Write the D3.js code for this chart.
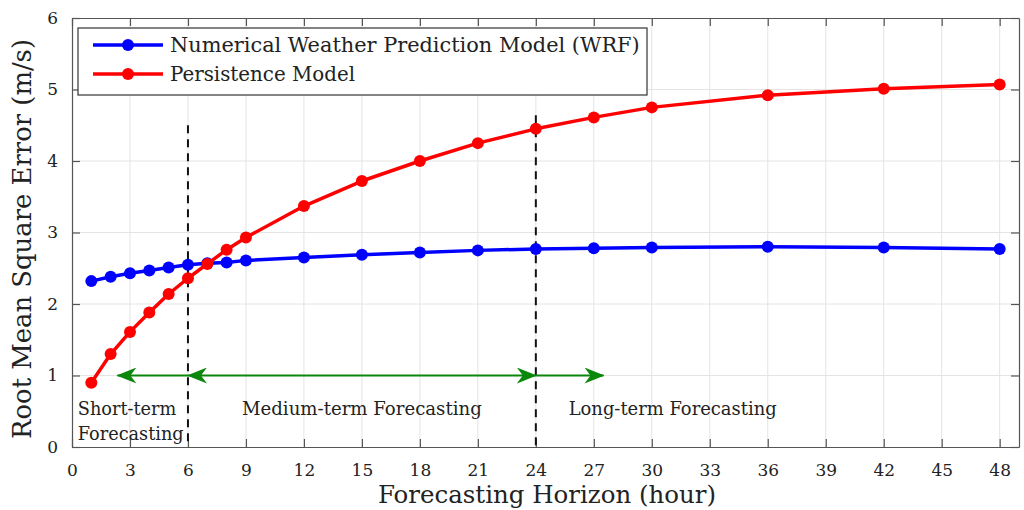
<!DOCTYPE html>
<html>
<head>
<meta charset="utf-8">
<script src="https://cdn.jsdelivr.net/npm/d3@7"></script>
<style>
  body { margin: 0; background: #fff; }
  svg { display: block; }
  text { font-family: "DejaVu Serif", "Liberation Serif", serif; fill: #222; }
</style>
</head>
<body>
<svg id="chart" width="1024" height="510"></svg>
<script>
// data
var hours = [1, 2, 3, 4, 5, 6, 7, 8, 9, 12, 15, 18, 21, 24, 27, 30, 36, 42, 48];
var wrfRmse = [2.32, 2.38, 2.43, 2.47, 2.51, 2.55, 2.57, 2.58, 2.61, 2.65, 2.69, 2.72, 2.75, 2.77, 2.78, 2.79, 2.80, 2.79, 2.77];
var persRmse = [0.90, 1.30, 1.61, 1.88, 2.14, 2.36, 2.56, 2.76, 2.93, 3.37, 3.72, 4.00, 4.25, 4.45, 4.61, 4.75, 4.92, 5.01, 5.07];
var xTicks = [0, 3, 6, 9, 12, 15, 18, 21, 24, 27, 30, 33, 36, 39, 42, 45, 48];
var yTicks = [0, 1, 2, 3, 4, 5, 6];
var seriesNames = ["Numerical Weather Prediction Model (WRF)", "Persistence Model"];
var boundaries = [{x: 6, top: 4.5}, {x: 24, top: 4.64}];
var arrows = [
  {from: 6, to: 2.35, both: false},
  {from: 6, to: 24, both: true},
  {from: 24, to: 27.5, both: false}
];
var regionLabels = [
  {lines: ["Short-term", "Forecasting"], x: 0.3, anchor: "start"},
  {lines: ["Medium-term Forecasting"], x: 15, anchor: "middle"},
  {lines: ["Long-term Forecasting"], x: 25.7, anchor: "start"}
];

var svg = d3.select("#chart"),
    margin = {top: 18, right: 5, bottom: 63, left: 72},
    width = 1024 - margin.left - margin.right,
    height = 510 - margin.top - margin.bottom,
    g = svg.append("g").attr("transform", "translate(" + margin.left + "," + margin.top + ")");

var x = d3.scaleLinear().domain([0, 49]).range([0, width]),
    y = d3.scaleLinear().domain([0, 6]).range([height, 0]);

var green = "#0b870b";

var defs = svg.append("defs");
function arrowHead(id, orient) {
  defs.append("marker")
    .attr("id", id)
    .attr("viewBox", "0 -8 20 16")
    .attr("refX", 19).attr("refY", 0)
    .attr("markerWidth", 20).attr("markerHeight", 16)
    .attr("markerUnits", "userSpaceOnUse")
    .attr("orient", orient)
    .append("path")
    .attr("d", "M0,-8 L20,0 L0,8 L6,0 Z")
    .attr("fill", green);
}
arrowHead("head", "auto");
arrowHead("headStart", "auto-start-reverse");

// grid
g.append("g").selectAll("line").data(xTicks.slice(1)).enter().append("line")
  .attr("x1", d => x(d)).attr("x2", d => x(d)).attr("y1", 0).attr("y2", height)
  .attr("stroke", "#e4e4e4").attr("stroke-width", 1);
g.append("g").selectAll("line").data(yTicks.slice(1, -1)).enter().append("line")
  .attr("y1", d => y(d)).attr("y2", d => y(d)).attr("x1", 0).attr("x2", width)
  .attr("stroke", "#e4e4e4").attr("stroke-width", 1);

// axes, matlab style box with inward ticks
function styleAxis(sel) {
  sel.select(".domain").attr("stroke", "#555").attr("stroke-width", 1.2);
  sel.selectAll(".tick line").attr("stroke", "#555").attr("stroke-width", 1.2);
  sel.selectAll("text").style("font-size", "17px").attr("fill", "#222");
}
g.append("g").attr("transform", "translate(0," + height + ")")
  .call(d3.axisBottom(x).tickValues(xTicks).tickSizeInner(-8).tickSizeOuter(0).tickPadding(17))
  .call(styleAxis);
g.append("g")
  .call(d3.axisTop(x).tickValues(xTicks).tickSizeInner(-8).tickSizeOuter(0).tickFormat(""))
  .call(styleAxis);
g.append("g")
  .call(d3.axisLeft(y).tickValues(yTicks).tickSizeInner(-8).tickSizeOuter(0).tickPadding(14).tickFormat(d3.format("d")))
  .call(styleAxis);
g.append("g").attr("transform", "translate(" + width + ",0)")
  .call(d3.axisRight(y).tickValues(yTicks).tickSizeInner(-8).tickSizeOuter(0).tickFormat(""))
  .call(styleAxis);

// boundary lines
g.append("g").selectAll("line").data(boundaries).enter().append("line")
  .attr("x1", d => x(d.x)).attr("x2", d => x(d.x))
  .attr("y1", d => y(d.top)).attr("y2", height)
  .attr("stroke", "#111").attr("stroke-width", 2).attr("stroke-dasharray", "8,6");

// region arrows
g.append("g").selectAll("line").data(arrows).enter().append("line")
  .attr("x1", d => x(d.from)).attr("x2", d => x(d.to))
  .attr("y1", y(1)).attr("y2", y(1))
  .attr("stroke", green).attr("stroke-width", 2.2)
  .attr("marker-end", "url(#head)")
  .attr("marker-start", d => d.both ? "url(#headStart)" : null);

function fitText(sel, w) {
  var len = sel.node().getComputedTextLength();
  var fs = parseFloat(sel.style("font-size"));
  fs = fs * w / len;
  sel.style("font-size", fs.toFixed(2) + "px");
  return fs;
}

// region labels, fitted on the last (widest) line
var regionWidths = [106, 240, 208];
regionLabels.forEach(function(r, i) {
  var texts = r.lines.map(function(line, j) {
    return g.append("text")
      .attr("x", x(r.x)).attr("y", y(1) + 39 + j * 25)
      .attr("text-anchor", r.anchor)
      .style("font-size", "16px")
      .text(line);
  });
  var fs = fitText(texts[texts.length - 1], regionWidths[i]);
  texts.forEach(function(t) { t.style("font-size", fs.toFixed(2) + "px"); });
});

// series
var series = [
  {name: seriesNames[0], values: wrfRmse, color: "#0000ff"},
  {name: seriesNames[1], values: persRmse, color: "#ff0000"}
];
var line = d3.line()
  .x(function(d, i) { return x(hours[i]); })
  .y(function(d) { return y(d); });

var s = g.selectAll(".series").data(series).enter().append("g").attr("class", "series");
s.append("path")
  .attr("d", d => line(d.values))
  .attr("fill", "none").attr("stroke", d => d.color).attr("stroke-width", 3.5)
  .attr("stroke-linejoin", "round");
s.each(function(d) {
  d3.select(this).selectAll("circle").data(d.values).enter().append("circle")
    .attr("cx", (v, i) => x(hours[i])).attr("cy", v => y(v)).attr("r", 6)
    .attr("fill", d.color);
});

// legend
var legend = g.append("g").attr("transform", "translate(6,10)");
legend.append("rect").attr("width", 569).attr("height", 67)
  .attr("fill", "#fff").attr("stroke", "#333").attr("stroke-width", 1.2);
var legendWidths = [470, 185];
series.forEach(function(d, i) {
  var row = legend.append("g").attr("transform", "translate(0," + (17 + i * 29) + ")");
  row.append("line").attr("x1", 15).attr("x2", 85)
    .attr("stroke", d.color).attr("stroke-width", 3.5);
  row.append("circle").attr("cx", 50).attr("r", 6).attr("fill", d.color);
  var t = row.append("text").attr("x", 92).attr("dy", "0.35em")
    .style("font-size", "18px").text(d.name);
  fitText(t, legendWidths[i]);
});

// axis titles
var xt = svg.append("text")
  .attr("x", 547).attr("y", 503).attr("text-anchor", "middle")
  .style("font-size", "20px").text("Forecasting Horizon (hour)");
fitText(xt, 338);
var yt = svg.append("text")
  .attr("transform", "translate(31,239) rotate(-90)").attr("text-anchor", "middle")
  .style("font-size", "20px").text("Root Mean Square Error (m/s)");
fitText(yt, 400);
</script>
</body>
</html>
